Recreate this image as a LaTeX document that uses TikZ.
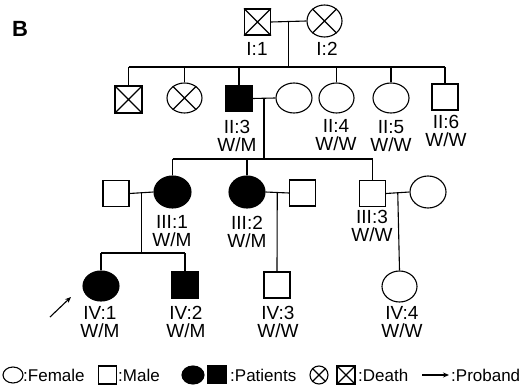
\documentclass[tikz,border=0pt]{standalone}
\usepackage{fontspec}
\setmainfont{Liberation Sans}
\usetikzlibrary{shapes.geometric,arrows.meta,calc}
\begin{document}
\begin{tikzpicture}[x=1pt,y=-1pt,
  lw/.style={line width=1.1pt},
  male/.style={draw,lw,rectangle,minimum size=26pt,inner sep=0pt},
  female/.style={draw,lw,ellipse,minimum width=36pt,minimum height=31pt,inner sep=0pt},
  aff/.style={fill=black},
  lab/.style={font=\fontsize{19}{18}\selectfont,align=center,inner sep=0pt},
  leg/.style={font=\fontsize{17}{18}\selectfont,inner sep=0pt,anchor=west},
  lmale/.style={draw,lw,rectangle,minimum size=17pt,inner sep=0pt},
  lfemale/.style={draw,lw,ellipse,minimum width=20pt,minimum height=16pt,inner sep=0pt},
  conn/.style={lw},
  ptr/.style={lw,-{Stealth[length=6pt,width=5pt]}}]
\useasboundingbox (0,0) rectangle (529,387);

\node[font=\fontsize{22}{22}\selectfont\bfseries,inner sep=0pt] (B) at (20,29) {B};

% Generation I
\node[male] (i1) at (257.5,22) {};
\node[female,minimum width=35pt,minimum height=32pt] (i2) at (324.5,21) {};
\draw[lw] (i1.north west) -- (i1.south east) (i1.north east) -- (i1.south west);
\draw[lw] (i2.45) -- (i2.225) (i2.135) -- (i2.315);
\node[lab] (li1) at (257,49) {I:1};
\node[lab] (li2) at (327,49) {I:2};

% Generation II
\node[male,minimum size=27pt] (ii1) at (128.5,99.5) {};
\node[female,minimum width=35pt,minimum height=30pt] (ii2) at (184.5,98) {};
\node[male,aff] (ii3) at (239,98.5) {};
\node[female,minimum height=30pt] (ii3w) at (294,98) {};
\node[female,minimum width=35pt,minimum height=30pt] (ii4) at (336.5,98) {};
\node[female,minimum height=30pt] (ii5) at (391,98) {};
\node[male] (ii6) at (445,97) {};
\draw[lw] (ii1.north west) -- (ii1.south east) (ii1.north east) -- (ii1.south west);
\draw[lw] (ii2.45) -- (ii2.225) (ii2.135) -- (ii2.315);
\node[lab] (lii3) at (237,135.5) {II:3\\W/M};
\node[lab] (lii4) at (336,135.5) {II:4\\W/W};
\node[lab] (lii5) at (391,136.5) {II:5\\W/W};
\node[lab] (lii6) at (446,131) {II:6\\W/W};

% Generation III
\node[male] (iii1h) at (116,193.5) {};
\node[female,aff,minimum width=37pt,minimum height=32pt] (iii1) at (172.5,192) {};
\node[female,aff,minimum width=36pt,minimum height=32pt] (iii2) at (247,192) {};
\node[male] (iii2h) at (302.5,193) {};
\node[male] (iii3) at (372.5,193.5) {};
\node[female,minimum height=32pt] (iii3w) at (428,192) {};
\node[lab] (liii1) at (172,231.5) {III:1\\W/M};
\node[lab] (liii2) at (247,231.5) {III:2\\W/M};
\node[lab] (liii3) at (372,226) {III:3\\W/W};

% Generation IV
\node[female,aff,minimum height=30pt] (iv1) at (101,286) {};
\node[male,aff] (iv2) at (185,285) {};
\node[male] (iv3) at (277,285) {};
\node[female,minimum width=35pt] (iv4) at (399.5,286.5) {};
\node[lab] (liv1) at (100,322) {IV:1\\W/M};
\node[lab] (liv2) at (186,322) {IV:2\\W/M};
\node[lab] (liv3) at (278,322) {IV:3\\W/W};
\node[lab] (liv4) at (402,322) {IV:4\\W/W};

% Connectors: generation I -> II
\draw[conn] (i1.east) -- (i2.west);
\coordinate (m1) at ($(i1.east)!0.5!(i2.west)$);
\coordinate (s2) at (m1 |- 0,67);
\draw[conn] (m1) -- (s2);
\draw[conn] (ii1.north |- s2) -- (ii6.north |- s2);
\foreach \c in {ii1,ii2,ii3,ii4,ii5,ii6} \draw[conn] (\c.north |- s2) -- (\c.north);

% II:3 marriage -> III
\draw[conn] (ii3.east) -- (ii3w.west);
\coordinate (m2) at ($(ii3.east)!0.5!(ii3w.west)$);
\coordinate (s3) at (m2 |- 0,159);
\draw[conn] (m2) -- (s3);
\draw[conn] (iii1.north |- s3) -- (iii3.north |- s3);
\foreach \c in {iii1,iii2,iii3} \draw[conn] (\c.north |- s3) -- (\c.north);

% III marriages
\draw[conn] (iii1h.east) -- (iii1.west);
\coordinate (m3) at ($(iii1h.east)!0.5!(iii1.west)$);
\coordinate (s4) at (m3 |- 0,253);
\draw[conn] (m3) -- (s4);
\draw[conn] (iv1.north |- s4) -- (iv2.north |- s4);
\foreach \c in {iv1,iv2} \draw[conn] (\c.north |- s4) -- (\c.north);

\draw[conn] (iii2.east) -- (iii2h.west);
\coordinate (m4) at ($(iii2.east)!0.5!(iii2h.west)$);
\draw[conn] (m4) -- (iv3.north);

\draw[conn] (iii3.east) -- (iii3w.west);
\coordinate (m5) at ($(iii3.east)!0.5!(iii3w.west)$);
\draw[conn] (m5) -- (iv4.north);

% Proband arrow
\coordinate (pa) at (50,317);
\coordinate (pb) at (71,297);
\draw[ptr] (pa) -- (pb);

% Legend
\node[lfemale] (lf) at (13,375) {};
\node[leg] (tf) at (23,375) {:Female};
\node[lmale,minimum size=18pt] (lm) at (107.5,375) {};
\node[leg] (tm) at (118,375) {:Male};
\node[lfemale,aff,minimum width=22pt,minimum height=18pt] (lpf) at (193,375) {};
\node[lmale,aff,minimum size=18pt] (lpm) at (217,374.5) {};
\node[leg] (tp) at (230,375) {:Patients};
\node[lfemale,minimum width=18pt,minimum height=18pt] (ldf) at (319,375) {};
\draw[lw] (ldf.45) -- (ldf.225) (ldf.135) -- (ldf.315);
\node[lmale,minimum size=18pt] (ldm) at (346,375) {};
\draw[lw] (ldm.north west) -- (ldm.south east) (ldm.north east) -- (ldm.south west);
\node[leg] (td) at (358,375) {:Death};
\coordinate (la) at (422,375);
\coordinate (lb) at (449,375);
\draw[ptr] (la) -- (lb);
\node[leg] (tpr) at (451,375) {:Proband};
\end{tikzpicture}
\end{document}
